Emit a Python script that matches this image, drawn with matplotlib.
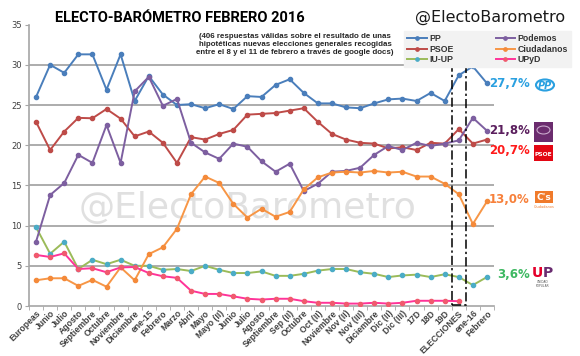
import numpy as np
import matplotlib.pyplot as plt
from matplotlib.patches import Rectangle, Circle

# datos
categorias = ['Europeas', 'Junio', 'Julio', 'Agosto', 'Septiembre', 'Octubre',
              'Noviembre', 'Diciembre', 'ene-15', 'Febrero', 'Marzo', 'Abril',
              'Mayo', 'Mayo (II)', 'Junio', 'Julio', 'Agosto', 'Septiembre',
              'Sep (II)', 'Octubre', 'Oct (II)', 'Noviembre', 'Nov (II)',
              'Nov (III)', 'Diciembre', 'Dic (II)', 'Dic (III)', '17D', '18D',
              '19D', 'ELECCIONES', 'ene-16', 'Febrero']

pp = [26.0, 30.0, 29.0, 31.3, 31.3, 26.9, 31.3, 25.5, 28.6, 26.3, 25.0, 25.1,
      24.6, 25.1, 24.5, 26.1, 26.0, 27.5, 28.2, 26.5, 25.2, 25.2, 24.7, 24.6,
      25.2, 25.7, 25.8, 25.5, 26.5, 25.5, 28.7, 29.8, 27.7]
psoe = [22.9, 19.4, 21.7, 23.4, 23.35, 24.5, 23.3, 21.1, 21.7, 20.3, 17.8, 21.0,
        20.7, 21.4, 21.9, 23.8, 23.9, 24.0, 24.3, 24.6, 22.9, 21.4, 20.7, 20.3,
        20.2, 19.6, 19.75, 19.4, 20.3, 20.2, 22.0, 20.2, 20.7]
iu_up = [9.8, 6.5, 8.0, 4.6, 5.75, 5.2, 5.75, 5.0, 5.0, 4.5, 4.6, 4.35,
         5.0, 4.5, 4.1, 4.1, 4.3, 3.75, 3.75, 4.0, 4.4, 4.6, 4.6, 4.2,
         4.0, 3.6, 3.8, 3.9, 3.6, 3.95, 3.6, 2.6, 3.6]
podemos = [8.0, 13.8, 15.3, 18.8, 17.8, 22.5, 17.8, 26.7, 28.5, 24.9, 25.75, 20.3,
           19.1, 18.3, 20.2, 19.8, 18.0, 16.7, 17.7, 14.3, 15.2, 16.7, 16.8, 17.2,
           18.8, 19.9, 19.4, 20.3, 19.9, 20.2, 20.6, 23.4, 21.8]
ciudadanos = [3.2, 3.45, 3.45, 2.5, 3.25, 2.4, 4.8, 3.2, 6.45, 7.3, 9.6, 13.9,
              16.1, 15.3, 12.7, 11.0, 12.1, 11.1, 11.7, 14.5, 16.0, 16.6, 16.7, 16.6,
              16.8, 16.6, 16.7, 16.1, 16.1, 15.2, 13.9, 10.2, 13.0]
upyd = [6.35, 6.1, 6.55, 4.6, 4.7, 4.2, 4.8, 4.85, 4.1, 3.7, 3.5, 1.9,
        1.5, 1.5, 1.2, 0.9, 0.8, 0.9, 0.9, 0.6, 0.4, 0.4, 0.3, 0.3,
        0.4, 0.3, 0.4, 0.65, 0.65, 0.65, 0.6, np.nan, np.nan]

# nombre, datos, color linea, color marcador
series = [
    ('PP', pp, '#4a7ebb', '#4a7ebb'),
    ('PSOE', psoe, '#be4b48', '#be4b48'),
    ('IU-UP', iu_up, '#9bbb59', '#4bacc6'),
    ('Podemos', podemos, '#7d5fa0', '#7d5fa0'),
    ('Ciudadanos', ciudadanos, '#f79646', '#f48a3a'),
    ('UPyD', upyd, '#ff3399', '#f05a6e'),
]

# etiquetas finales (texto, valor, desplazamiento, color)
finales = [('27,7%', 27.7, 0.0, '#2aa0e0'),
           ('21,8%', 21.8, 0.0, '#5b1f5e'),
           ('20,7%', 20.7, -1.4, '#ff1a1a'),
           ('13,0%', 13.0, 0.3, '#f7803a'),
           ('3,6%', 3.6, 0.3, '#3cb860')]

W, H = 580, 356
fig = plt.figure(figsize=(W / 100, H / 100), dpi=100)
ax = fig.add_axes([29 / W, 1 - 306 / H, (494 - 29) / W, (306 - 24.6) / H])

def px(x, y):
    return x / W, 1 - y / H

x = np.arange(len(categorias))

# marca de agua
ax.text(0.47, 0.35, '@ElectoBarometro', transform=ax.transAxes, fontsize=26,
        color='#e0e0e0', ha='center', va='center', zorder=0)

for nombre, datos, c, mc in series:
    ax.plot(x, datos, '-', color=c, lw=1.4, marker='o', ms=3,
            mfc=mc, mec=mc, label=nombre, zorder=3)

# recuadro de las elecciones
ax.add_patch(Rectangle((29.5, 0.1), 1.0, 29.8, fill=False, ec='black',
                       ls=(0, (6, 2, 1.5, 2)), lw=1.1, zorder=4))

ax.set_xlim(-0.5, len(categorias) - 0.5)
ax.set_ylim(0, 35)
ax.set_yticks(range(0, 36, 5))
for v in range(5, 35, 5):
    ax.axhline(v, color='#a6a6a6', lw=1.3, zorder=1)

ax.set_xticks(x)
ax.set_xticklabels(categorias, rotation=45, ha='right', rotation_mode='anchor',
                   fontsize=6.2, fontweight='bold', color='#404040',
                   family=['Liberation Sans', 'DejaVu Sans'])
ax.set_xticks(np.arange(-0.5, len(categorias), 1), minor=True)
ax.tick_params(axis='x', which='major', length=0, pad=2)
ax.tick_params(axis='x', which='minor', length=3, color='#a6a6a6')
ax.tick_params(axis='y', labelsize=6, labelcolor='#404040', length=3,
               color='#a6a6a6', pad=2)
for s in ['top', 'right']:
    ax.spines[s].set_visible(False)
for s in ['left', 'bottom']:
    ax.spines[s].set_color('#a6a6a6')
    ax.spines[s].set_linewidth(1.2)

# etiquetas a la derecha
for txt, v, dy, c in finales:
    ax.text(1.077, v + dy, txt, transform=ax.get_yaxis_transform(),
            ha='right', va='center', fontsize=8.5, fontweight='bold', color=c)

# logos aproximados
fig.patches.append(Circle(px(545, 85), 9 / W, transform=fig.transFigure,
                          fc='white', ec='#2aa0e0', lw=1.5))
fig.text(*px(545, 86), 'PP', ha='center', va='center', fontsize=7,
         fontweight='bold', style='italic', color='#2aa0e0')
x0, y0 = px(534, 142)
fig.patches.append(Rectangle((x0, y0), 19 / W, 20 / H, transform=fig.transFigure,
                             fc='#6b2c6e', ec='none'))
fig.patches.append(Circle(px(543.5, 130), 6.5 / W, transform=fig.transFigure,
                          fc='#6b2c6e', ec='#c9a9cc', lw=0.8))
x0, y0 = px(534, 161)
fig.patches.append(Rectangle((x0, y0), 19 / W, 16 / H, transform=fig.transFigure,
                             fc='#e30613', ec='none'))
fig.text(*px(543.5, 155), 'PSOE', ha='center', va='center', fontsize=4.3,
         fontweight='bold', color='white')
x0, y0 = px(535, 203)
fig.patches.append(Rectangle((x0, y0), 18 / W, 12 / H, transform=fig.transFigure,
                             fc='#f07a2a', ec='none'))
fig.text(*px(544, 197), "C's", ha='center', va='center', fontsize=6.5,
         fontweight='bold', color='white')
fig.text(*px(544, 207), 'Ciudadanos', ha='center', va='center', fontsize=2.5,
         color='#f07a2a')
fig.text(*px(543, 273), 'U', ha='right', va='center', fontsize=10,
         fontweight='bold', color='#e4002b')
fig.text(*px(543, 273), 'P', ha='left', va='center', fontsize=10,
         fontweight='bold', color='#6a2c70')
fig.text(*px(543, 284), 'UNIDAD\nPOPULAR', ha='center', va='center',
         fontsize=2.2, color='#555555', linespacing=0.9)

# titulos
fig.text(*px(180, 18), 'ELECTO-BARÓMETRO FEBRERO 2016', ha='center', va='center',
         fontsize=10.5, fontweight='bold', color='black',
         family=['Liberation Sans Narrow', 'Roboto', 'DejaVu Sans'])
fig.text(*px(490, 17), '@ElectoBarometro', ha='center', va='center',
         fontsize=11.5, color='#1a1a1a')
fig.text(*px(295, 45), '(406 respuestas válidas sobre el resultado de unas\n'
         'hipotéticas nuevas elecciones generales recogidas\n'
         'entre el 8 y el 11 de febrero a través de google docs)',
         ha='center', va='center', fontsize=5.7, fontweight='bold',
         color='#262626', linespacing=1.2,
         family=['Liberation Sans', 'DejaVu Sans'])

h, l = ax.get_legend_handles_labels()
leg = fig.legend(h, l, ncol=2, loc='upper left', bbox_to_anchor=px(400, 27),
                 frameon=True, facecolor='#f2f2f2',
                 edgecolor='#f2f2f2', fancybox=False, handlelength=2.2,
                 columnspacing=4.8, labelspacing=0.15, borderpad=0.35,
                 handletextpad=0.3, markerscale=0.8,
                 prop={'family': ['Liberation Sans', 'DejaVu Sans'],
                       'weight': 'bold', 'size': 6.3})
leg.get_frame().set_alpha(1)
for t in leg.get_texts():
    t.set_color('#333333')

fig.savefig('out.png', dpi=100)
